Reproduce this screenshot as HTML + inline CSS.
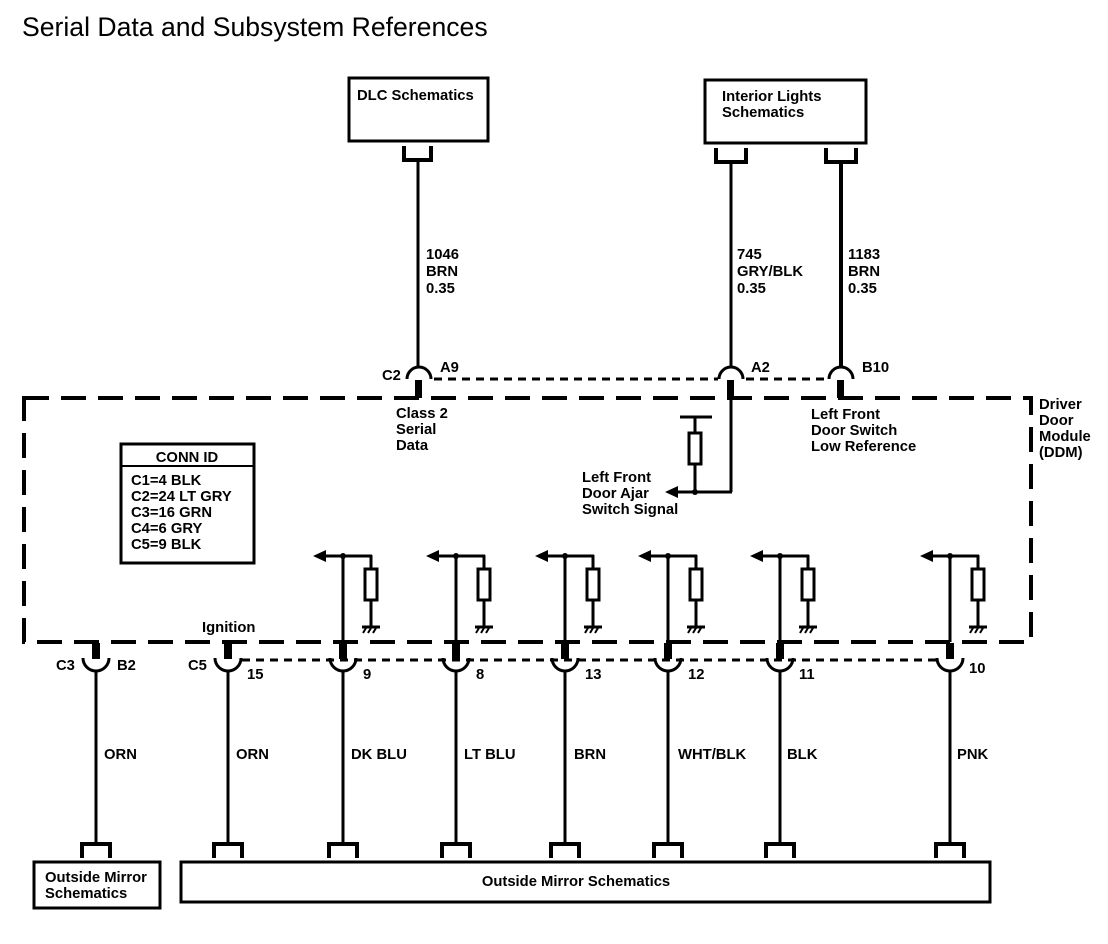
<!DOCTYPE html>
<html><head><meta charset="utf-8"><style>
html,body{margin:0;padding:0;background:#fff;}
svg{display:block;font-family:"Liberation Sans",Arial,sans-serif;}
text{font-size:14.8px;font-weight:bold;fill:#000;}
</style></head><body>
<svg width="1108" height="944" viewBox="0 0 1108 944" xmlns="http://www.w3.org/2000/svg">
<defs>
<g id="inner">
  <line x1="0" y1="556" x2="0" y2="642" stroke="#000" stroke-width="3"/>
  <line x1="-20" y1="556" x2="29" y2="556" stroke="#000" stroke-width="3"/>
  <polygon points="-30,556 -17,550 -17,562" fill="#000"/>
  <circle cx="0" cy="556" r="3" fill="#000"/>
  <line x1="28" y1="555" x2="28" y2="626" stroke="#000" stroke-width="3"/>
  <rect x="22" y="569" width="12" height="31" fill="#fff" stroke="#000" stroke-width="3"/>
  <line x1="19" y1="627" x2="37" y2="627" stroke="#000" stroke-width="3"/>
  <path d="M20 633 L23 628 M25 633 L28 628 M30 633 L33 628" stroke="#000" stroke-width="2"/>
</g>
<g id="pin">
  <rect x="-4" y="643" width="8" height="16" fill="#000"/>
  <path d="M-13 658 A13 13 0 0 0 13 658" fill="none" stroke="#000" stroke-width="3"/>
  <line x1="0" y1="670" x2="0" y2="845" stroke="#000" stroke-width="3"/>
  <path d="M-14 858 V844 H14 V858" fill="none" stroke="#000" stroke-width="4"/>
</g>
</defs>

<text x="22" y="36" style="font-size:26.6px;font-weight:normal">Serial Data and Subsystem References</text>

<!-- top boxes -->
<rect x="349" y="78" width="139" height="63" fill="none" stroke="#000" stroke-width="3"/>
<text x="357" y="100">DLC Schematics</text>
<path d="M404 146 V160 H431 V146" fill="none" stroke="#000" stroke-width="4"/>
<line x1="418" y1="159" x2="418" y2="367" stroke="#000" stroke-width="3"/>

<rect x="705" y="80" width="161" height="63" fill="none" stroke="#000" stroke-width="3"/>
<text x="722" y="101">Interior Lights</text>
<text x="722" y="117">Schematics</text>
<path d="M716 148 V162 H746 V148" fill="none" stroke="#000" stroke-width="4"/>
<path d="M826 148 V162 H856 V148" fill="none" stroke="#000" stroke-width="4"/>
<line x1="731" y1="161" x2="731" y2="367" stroke="#000" stroke-width="3"/>
<line x1="841" y1="161" x2="841" y2="367" stroke="#000" stroke-width="4"/>

<text x="426" y="259">1046</text><text x="426" y="276">BRN</text><text x="426" y="293">0.35</text>
<text x="737" y="259">745</text><text x="737" y="276">GRY/BLK</text><text x="737" y="293">0.35</text>
<text x="848" y="259">1183</text><text x="848" y="276">BRN</text><text x="848" y="293">0.35</text>

<!-- top connectors -->
<g fill="none" stroke="#000" stroke-width="3">
<path d="M407 379 A12 12 0 0 1 431 379"/>
<path d="M719 379 A12 12 0 0 1 743 379"/>
<path d="M829 379 A12 12 0 0 1 853 379"/>
</g>
<rect x="415" y="380" width="7" height="18" fill="#000"/>
<rect x="727" y="380" width="7" height="18" fill="#000"/>
<rect x="837" y="380" width="7" height="18" fill="#000"/>
<line x1="434" y1="379" x2="718" y2="379" stroke="#000" stroke-width="3" stroke-dasharray="8,6"/>
<line x1="746" y1="379" x2="828" y2="379" stroke="#000" stroke-width="3" stroke-dasharray="8,6"/>
<text x="382" y="380">C2</text><text x="440" y="372">A9</text>
<text x="751" y="372">A2</text><text x="862" y="372">B10</text>

<!-- module box -->
<rect x="24" y="398" width="1007" height="244" fill="none" stroke="#000" stroke-width="4" stroke-dasharray="25,12"/>
<text x="396" y="418">Class 2</text><text x="396" y="434">Serial</text><text x="396" y="450">Data</text>
<text x="811" y="419">Left Front</text><text x="811" y="435">Door Switch</text><text x="811" y="451">Low Reference</text>
<text x="1039" y="409">Driver</text><text x="1039" y="425">Door</text><text x="1039" y="441">Module</text><text x="1039" y="457">(DDM)</text>

<!-- door ajar -->
<line x1="731" y1="396" x2="731" y2="492" stroke="#000" stroke-width="3"/>
<line x1="676" y1="492" x2="732" y2="492" stroke="#000" stroke-width="3"/>
<polygon points="665,492 678,486 678,498" fill="#000"/>
<line x1="680" y1="417" x2="712" y2="417" stroke="#000" stroke-width="3"/>
<line x1="695" y1="417" x2="695" y2="492" stroke="#000" stroke-width="3"/>
<rect x="689" y="433" width="12" height="31" fill="#fff" stroke="#000" stroke-width="3"/>
<circle cx="695" cy="492" r="3" fill="#000"/>
<text x="582" y="482">Left Front</text><text x="582" y="498">Door Ajar</text><text x="582" y="514">Switch Signal</text>

<!-- conn id -->
<rect x="121" y="444" width="133" height="119" fill="none" stroke="#000" stroke-width="3"/>
<line x1="121" y1="466" x2="254" y2="466" stroke="#000" stroke-width="2"/>
<text x="187" y="462" text-anchor="middle">CONN ID</text>
<text x="131" y="485">C1=4 BLK</text>
<text x="131" y="501">C2=24 LT GRY</text>
<text x="131" y="517">C3=16 GRN</text>
<text x="131" y="533">C4=6 GRY</text>
<text x="131" y="549">C5=9 BLK</text>

<!-- inner circuits -->
<use href="#inner" x="343"/>
<use href="#inner" x="456"/>
<use href="#inner" x="565"/>
<use href="#inner" x="668"/>
<use href="#inner" x="780"/>
<use href="#inner" x="950"/>

<line x1="242" y1="660" x2="940" y2="660" stroke="#000" stroke-width="3" stroke-dasharray="8,6"/>

<use href="#pin" x="96"/>
<use href="#pin" x="228"/>
<use href="#pin" x="343"/>
<use href="#pin" x="456"/>
<use href="#pin" x="565"/>
<use href="#pin" x="668"/>
<use href="#pin" x="780"/>
<use href="#pin" x="950"/>

<text x="202" y="632">Ignition</text>
<text x="56" y="670">C3</text><text x="117" y="670">B2</text>
<text x="188" y="670">C5</text><text x="247" y="679">15</text>
<text x="363" y="679">9</text><text x="476" y="679">8</text>
<text x="585" y="679">13</text><text x="688" y="679">12</text>
<text x="799" y="679">11</text><text x="969" y="673">10</text>

<text x="104" y="759">ORN</text>
<text x="236" y="759">ORN</text>
<text x="351" y="759">DK BLU</text>
<text x="464" y="759">LT BLU</text>
<text x="574" y="759">BRN</text>
<text x="678" y="759">WHT/BLK</text>
<text x="787" y="759">BLK</text>
<text x="957" y="759">PNK</text>

<!-- bottom boxes -->
<rect x="34" y="862" width="126" height="46" fill="none" stroke="#000" stroke-width="3"/>
<text x="45" y="882">Outside Mirror</text><text x="45" y="898">Schematics</text>
<rect x="181" y="862" width="809" height="40" fill="none" stroke="#000" stroke-width="3"/>
<text x="576" y="886" text-anchor="middle">Outside Mirror Schematics</text>
</svg>
</body></html>
